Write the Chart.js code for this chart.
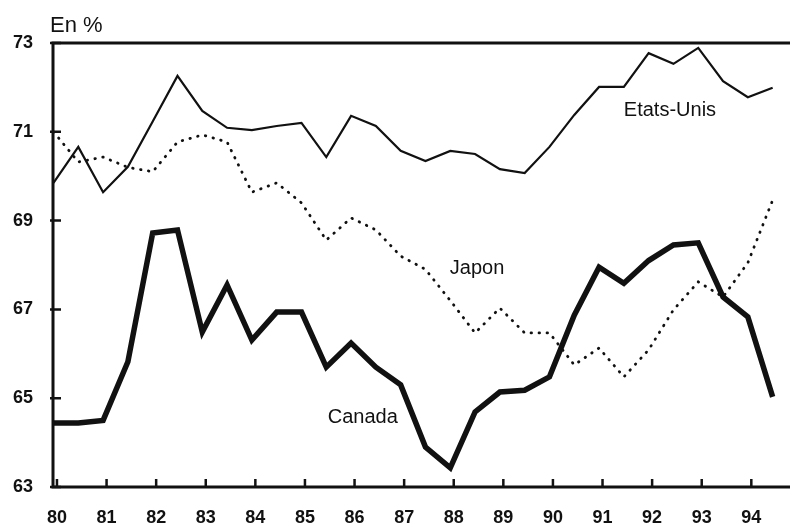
<!DOCTYPE html>
<html>
<head>
<meta charset="utf-8">
<script src="https://cdn.jsdelivr.net/npm/chart.js@4/dist/chart.umd.min.js"></script>
<style>
  html, body { margin: 0; padding: 0; background: #fff; }
  canvas { display: block; }
</style>
</head>
<body>
<canvas id="c" width="790" height="524"></canvas>
<script>
// Half-year periods (19xx)
const periods = [80, 80.5, 81, 81.5, 82, 82.5, 83, 83.5, 84, 84.5,
                 85, 85.5, 86, 86.5, 87, 87.5, 88, 88.5, 89, 89.5,
                 90, 90.5, 91, 91.5, 92, 92.5, 93, 93.5, 94, 94.5];

const etatsUnis = [69.85, 70.66, 69.64, 70.21, 71.23, 72.26, 71.47, 71.09, 71.04, 71.13,
                   71.20, 70.43, 71.36, 71.13, 70.57, 70.34, 70.57, 70.50, 70.16, 70.07,
                   70.66, 71.38, 72.01, 72.01, 72.77, 72.53, 72.89, 72.14, 71.78, 71.99];

const japon = [71.00, 70.32, 70.43, 70.20, 70.10, 70.77, 70.93, 70.77, 69.64, 69.85,
               69.40, 68.56, 69.06, 68.79, 68.20, 67.90, 67.20, 66.47, 67.03, 66.47,
               66.47, 65.75, 66.13, 65.48, 66.09, 66.99, 67.62, 67.28, 68.05, 69.46];

const canada = [64.44, 64.44, 64.50, 65.82, 68.72, 68.79, 66.49, 67.55, 66.31, 66.94,
                66.94, 65.70, 66.24, 65.70, 65.30, 63.90, 63.43, 64.69, 65.14, 65.18,
                65.48, 66.87, 67.95, 67.59, 68.10, 68.45, 68.50, 67.28, 66.83, 65.03];

const yearTicks = [80, 81, 82, 83, 84, 85, 86, 87, 88, 89, 90, 91, 92, 93, 94];
const valueTicks = [63, 65, 67, 69, 71, 73];

const unitLabel = 'En %';
const seriesNames = ['Etats-Unis', 'Japon', 'Canada'];
// where each series name is written, in data units
const nameAnchors = [[91.43, 71.49], [87.92, 67.93], [85.46, 64.56]];

const DATA_SHIFT = -0.07; // points sit slightly left of the year ticks in the source
const toPoints = arr => periods.map((p, i) => ({ x: p + DATA_SHIFT, y: arr[i] }));

const INK = '#111';
const FONT = '"Liberation Sans", Arial, sans-serif';

const framePlugin = {
  id: 'frame',
  afterDraw(chart) {
    const ctx = chart.ctx;
    const { left, right, top, bottom } = chart.chartArea;
    const xs = chart.scales.x, ys = chart.scales.y;
    ctx.save();
    ctx.strokeStyle = INK;
    ctx.lineCap = 'square';
    ctx.lineWidth = 3;
    ctx.beginPath();
    ctx.moveTo(left, top); ctx.lineTo(chart.width, top);
    ctx.moveTo(left, top); ctx.lineTo(left, bottom);
    ctx.moveTo(left, bottom); ctx.lineTo(chart.width, bottom);
    ctx.stroke();
    ctx.lineWidth = 2.5;
    ctx.lineCap = 'butt';
    ctx.beginPath();
    yearTicks.forEach(v => {
      const x = xs.getPixelForValue(v);
      ctx.moveTo(x, bottom); ctx.lineTo(x, bottom - 8);
    });
    valueTicks.forEach(v => {
      const y = ys.getPixelForValue(v);
      ctx.moveTo(left - 3, y); ctx.lineTo(left + 8, y);
    });
    ctx.stroke();

    ctx.fillStyle = INK;
    ctx.font = '20px ' + FONT;
    ctx.textAlign = 'left';
    ctx.textBaseline = 'middle';
    seriesNames.forEach((n, i) => {
      ctx.fillText(n, xs.getPixelForValue(nameAnchors[i][0]), ys.getPixelForValue(nameAnchors[i][1]));
    });
    ctx.font = '22px ' + FONT;
    ctx.textBaseline = 'alphabetic';
    ctx.fillText(unitLabel, left - 3, top - 11);
    ctx.restore();
  }
};

new Chart(document.getElementById('c'), {
  type: 'line',
  data: {
    datasets: [
      { label: seriesNames[0], data: toPoints(etatsUnis), borderColor: INK, borderWidth: 2.2,
        pointRadius: 0, tension: 0, clip: false },
      { label: seriesNames[1], data: toPoints(japon), borderColor: INK, borderWidth: 2.8,
        borderDash: [0.5, 7.5], borderCapStyle: 'round', pointRadius: 0, tension: 0, clip: false },
      { label: seriesNames[2], data: toPoints(canada), borderColor: INK, borderWidth: 5.5,
        borderJoinStyle: 'miter', pointRadius: 0, tension: 0, clip: false }
    ]
  },
  options: {
    responsive: false,
    animation: false,
    devicePixelRatio: 1,
    layout: { padding: { top: 43, left: 0, right: 0, bottom: 0 } },
    plugins: { legend: { display: false }, tooltip: { enabled: false }, title: { display: false } },
    scales: {
      x: {
        type: 'linear',
        min: 79.92,
        max: 94.78,
        grid: { display: false, drawTicks: false },
        border: { display: false },
        afterBuildTicks: s => { s.ticks = yearTicks.map(v => ({ value: v })); },
        afterFit: s => { s.height = 37; },
        ticks: {
          padding: 20,
          color: INK,
          font: { family: FONT, size: 18, weight: 'bold' },
          maxRotation: 0,
          autoSkip: false,
          callback: v => String(v)
        }
      },
      y: {
        min: 63,
        max: 73,
        grid: { display: false, drawTicks: false },
        border: { display: false },
        afterBuildTicks: s => { s.ticks = valueTicks.map(v => ({ value: v })); },
        afterFit: s => { s.width = 53; },
        ticks: {
          padding: 20,
          color: INK,
          font: { family: FONT, size: 18, weight: 'bold' },
          callback: v => String(v)
        }
      }
    }
  },
  plugins: [framePlugin]
});
</script>
</body>
</html>
